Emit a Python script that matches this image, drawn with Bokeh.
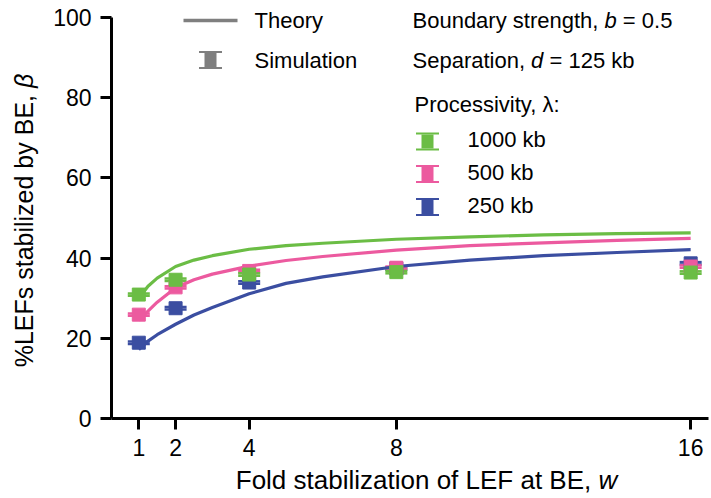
import math
from bokeh.plotting import figure
from bokeh.models import (Range1d, FixedTicker, Label, BoxAnnotation, Whisker,
                          TeeHead, ColumnDataSource)
from bokeh.embed import file_html
from bokeh.resources import INLINE

# ---------------- data ----------------
w_sim = [1, 2, 4, 8, 16]
sim_1000 = [30.9, 34.6, 35.9, 36.5, 36.4]
sim_500 = [25.9, 32.7, 36.8, 37.6, 37.9]
sim_250 = [18.9, 27.5, 33.9, 37.4, 38.7]
err_1000 = [0.3, 0.3, 0.3, 0.3, 0.3]
err_500 = [0.3, 0.3, 0.3, 0.3, 0.3]
err_250 = [0.3, 0.3, 0.3, 0.3, 0.3]

w_theory = [1, 1.25, 1.5, 2, 2.5, 3, 4, 5, 6, 8, 10, 12, 14, 16]
theory_1000 = [30.0, 33.0, 35.0, 37.9, 39.5, 40.6, 42.2, 43.1, 43.7, 44.7, 45.3, 45.8, 46.1, 46.3]
theory_500 = [24.5, 26.8, 29.0, 32.6, 34.6, 36.0, 38.0, 39.4, 40.4, 42.0, 43.1, 43.8, 44.4, 44.9]
theory_250 = [17.2, 19.3, 20.9, 23.5, 25.8, 27.7, 31.1, 33.7, 35.3, 37.9, 39.5, 40.6, 41.4, 42.1]

x_ticks = [1, 2, 4, 8, 16]
y_ticks = [0, 20, 40, 60, 80, 100]
x_axis_bounds = (0.258, 16.485)
y_axis_bounds = (0, 100)

series_names = ["1000 kb", "500 kb", "250 kb"]
colors = {"1000 kb": "#6bbd45", "500 kb": "#ec5a9f", "250 kb": "#3b4ea1"}
GREY = "#7f7f7f"
FONT = "Liberation Sans"

# ---------------- layout (picture pixels) ----------------
W, H = 711, 498
AX_L, AX_R, AX_T, AX_B = 111, 708, 17, 418   # where the axes lie on the picture
px_per_x = (AX_R - AX_L) / (x_axis_bounds[1] - x_axis_bounds[0])
px_per_y = (AX_B - AX_T) / (y_axis_bounds[1] - y_axis_bounds[0])
x_range = Range1d(x_axis_bounds[0] - AX_L / px_per_x,
                  x_axis_bounds[0] + (W - AX_L) / px_per_x)
y_range = Range1d(y_axis_bounds[0] - (H - AX_B) / px_per_y,
                  y_axis_bounds[1] + AX_T / px_per_y)

p = figure(width=W, height=H, min_border=0, x_range=x_range, y_range=y_range,
           output_backend="svg", toolbar_location=None)
p.outline_line_color = None
p.grid.visible = False
p.background_fill_color = "white"
p.border_fill_color = "white"

p.xaxis.fixed_location = y_axis_bounds[0]
p.xaxis.bounds = x_axis_bounds
p.yaxis.fixed_location = x_axis_bounds[0]
p.yaxis.bounds = y_axis_bounds

for ax, ticks in ((p.xaxis, x_ticks), (p.yaxis, y_ticks)):
    ax.ticker = FixedTicker(ticks=ticks)
    ax.minor_tick_line_color = None
    ax.axis_line_width = 3
    ax.axis_line_color = "black"
    ax.major_tick_line_width = 3
    ax.major_tick_line_color = "black"
    ax.major_tick_in = 0
    ax.major_tick_out = 11
    ax.major_label_text_font = FONT
    ax.major_label_text_font_size = "23px"
    ax.major_label_text_color = "black"
p.xaxis.major_label_standoff = 9
p.yaxis.major_label_standoff = 9

# ---------------- theory curves and simulations ----------------
theory = {"1000 kb": theory_1000, "500 kb": theory_500, "250 kb": theory_250}
sims = {"1000 kb": (sim_1000, err_1000), "500 kb": (sim_500, err_500),
        "250 kb": (sim_250, err_250)}

for name in ["250 kb", "500 kb", "1000 kb"]:
    p.line(w_theory, theory[name], line_color=colors[name], line_width=3.2)

for name in ["250 kb", "500 kb", "1000 kb"]:
    vals, errs = sims[name]
    src = ColumnDataSource(dict(w=w_sim, v=vals,
                                lo=[a - b for a, b in zip(vals, errs)],
                                hi=[a + b for a, b in zip(vals, errs)]))
    wk = Whisker(base="w", lower="lo", upper="hi", source=src, dimension="height",
                 line_color=colors[name], line_width=2, level="underlay",
                 upper_head=TeeHead(size=22, line_color=colors[name], line_width=2.5),
                 lower_head=TeeHead(size=22, line_color=colors[name], line_width=2.5))
    p.add_layout(wk)
    p.scatter("w", "v", source=src, marker="square", size=13,
              fill_color=colors[name], line_color=colors[name])

# ---------------- text helpers ----------------
ARIAL = {' ': 278, '%': 889, ',': 278, '.': 278, '=': 584, ':': 278,
         'B': 667, 'E': 667, 'F': 611, 'L': 556, 'S': 667, 'P': 667,
         'a': 556, 'b': 556, 'c': 500, 'd': 556, 'e': 556, 'f': 278, 'g': 556,
         'h': 556, 'i': 222, 'k': 500, 'l': 222, 'n': 556, 'o': 556, 'p': 556,
         'r': 333, 's': 500, 't': 278, 'u': 556, 'v': 500, 'w': 722, 'y': 500,
         'z': 500, 'β': 575, 'λ': 500}
BASELINE_FIX = 8   # Bokeh draws "alphabetic" labels this much below the anchor


def text_width(txt, size):
    return sum(ARIAL.get(c, 556) for c in txt) * size / 1000.0


def sx(X):
    return X


def sy(Y):
    return H - Y


def text_run(parts, X, Y, size, angle=0.0):
    """parts: list of (text, style). X, Y: picture coords of the baseline start."""
    pos = 0.0
    for txt, style in parts:
        lead = len(txt) - len(txt.lstrip(" "))
        shown = txt.strip(" ")
        off = pos + text_width(" " * lead, size)
        if angle == 0.0:
            lx, ly = X + off, Y - BASELINE_FIX
        else:
            lx, ly = X - BASELINE_FIX, Y - off
        if shown:
            p.add_layout(Label(x=sx(lx), y=sy(ly), x_units="screen", y_units="screen",
                               text=shown, text_font=FONT, text_font_size=f"{size}px",
                               text_font_style=style, text_baseline="alphabetic",
                               text_align="left", text_color="black",
                               angle=angle, angle_units="rad"))
        pos += text_width(txt, size)
    return pos


def box(X0, X1, Y0, Y1, color):
    p.add_layout(BoxAnnotation(left=sx(X0), right=sx(X1), bottom=sy(Y1), top=sy(Y0),
                               left_units="screen", right_units="screen",
                               bottom_units="screen", top_units="screen",
                               fill_color=color, fill_alpha=1.0, line_color=None,
                               level="overlay"))


def sim_swatch(cx, cy, color):
    box(cx - 11.5, cx + 11.5, cy - 9, cy - 7, color)   # top cap
    box(cx - 11.5, cx + 11.5, cy + 7, cy + 9, color)   # bottom cap
    box(cx - 6, cx + 6, cy - 7, cy + 7, color)         # body


# ---------------- axis titles ----------------
xt_parts = [("Fold stabilization of LEF at BE, ", "normal"), ("w", "italic")]
xt_size = 26
xt_w = sum(text_width(t, xt_size) for t, _ in xt_parts)
text_run(xt_parts, 426 - xt_w / 2, 487, xt_size)

yt_parts = [("%LEFs stabilized by BE, ", "normal"), ("β", "italic")]
yt_size = 25
yt_w = sum(text_width(t, yt_size) for t, _ in yt_parts)
text_run(yt_parts, 31, 220 + yt_w / 2, yt_size, angle=math.pi / 2)

# ---------------- legend ----------------
LS = 22
box(183, 237, 18.2, 21.8, GREY)
text_run([("Theory", "normal")], 254, 28, LS)
sim_swatch(210, 59.5, GREY)
text_run([("Simulation", "normal")], 254, 68, LS)

text_run([("Boundary strength, ", "normal"), ("b", "italic"), (" = 0.5", "normal")], 412, 28, LS)
text_run([("Separation, ", "normal"), ("d", "italic"), (" = 125 kb", "normal")], 412, 68, LS)
text_run([("Processivity, λ:", "normal")], 414, 112, LS)

for name, cy, base in zip(series_names, [141, 173.5, 206.5], [147, 180, 213]):
    sim_swatch(427, cy, colors[name])
    text_run([(name, "normal")], 467, base, LS)

open("out.html", "w").write(file_html(p, INLINE))
